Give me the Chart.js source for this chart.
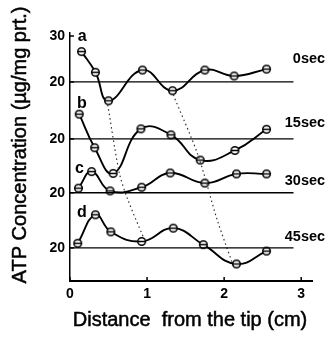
<!DOCTYPE html>
<html>
<head>
<meta charset="utf-8">
<script src="https://cdn.jsdelivr.net/npm/chart.js@4.4.0/dist/chart.umd.min.js"></script>
<style>
html, body { margin: 0; padding: 0; background: #fff; }
</style>
</head>
<body>
<canvas id="myChart" width="329" height="339"></canvas>
<script>
// distance from the tip (cm), one list per trace
var distA = [0.15, 0.33, 0.50, 0.94, 1.33, 1.75, 2.13, 2.55];
var distB = [0.12, 0.32, 0.56, 0.92, 1.31, 1.69, 2.14, 2.55];
var distC = [0.11, 0.28, 0.52, 0.93, 1.30, 1.75, 2.16, 2.55];
var distD = [0.10, 0.33, 0.53, 0.93, 1.34, 1.73, 2.16, 2.55];

// ATP concentration (ug/mg prt.)
var atpA = [26.6, 22.1, 15.9, 22.6, 18.1, 22.6, 21.3, 22.8];
var atpB = [25.4, 18.1, 12.5, 22.2, 20.9, 15.4, 17.5, 22.1];
var atpC = [21.0, 24.6, 20.4, 21.2, 24.3, 22.1, 24.1, 24.1];
var atpD = [21.0, 27.2, 23.5, 21.4, 24.3, 20.7, 16.5, 19.3];

var traceLetters = ['a', 'b', 'c', 'd'];
var timeLabels = ['0sec', '15sec', '30sec', '45sec'];
var yTickValues = [30, 20, 20, 20, 20];
var yTickPanel = [0, 0, 1, 2, 3];
var xTickValues = [0, 1, 2, 3];

// dotted guide lines linking the minima (distance, value on trace a's scale)
var guide1X = [0.49, 0.64, 0.75, 0.95];
var guide1Y = [15.0, 0.2, -5.6, -13.7];
var guide2X = [1.34, 1.66, 1.91, 2.10];
var guide2Y = [17.2, 4.1, -10.0, -19.1];

// each trace is drawn lower on the page by this many units
var shift = [0, 12.4, 24.1, 36.1];
var baseLevel = 20;
var baseEnd = 2.9;

var dists = [distA, distB, distC, distD];
var atps = [atpA, atpB, atpC, atpD];

// open circle marker with a bar through it
var marker = document.createElement('canvas');
marker.width = 11; marker.height = 11;
(function () {
    var m = marker.getContext('2d');
    m.fillStyle = '#fff';
    m.strokeStyle = '#000';
    m.lineWidth = 1.5;
    m.beginPath();
    m.arc(5.5, 5.5, 3.8, 0, Math.PI * 2);
    m.fill();
    m.stroke();
    m.beginPath();
    m.moveTo(1.5, 5.5);
    m.lineTo(9.5, 5.5);
    m.stroke();
})();

var datasets = [];
for (var i = 0; i < 4; i++) {
    datasets.push({
        data: [{x: 0, y: baseLevel - shift[i]}, {x: baseEnd, y: baseLevel - shift[i]}],
        borderColor: '#000',
        borderWidth: 1.3,
        pointRadius: 0,
        tension: 0
    });
}
[[guide1X, guide1Y], [guide2X, guide2Y]].forEach(function (g) {
    datasets.push({
        data: g[0].map(function (x, j) { return {x: x, y: g[1][j]}; }),
        borderColor: '#333',
        borderWidth: 1.2,
        borderDash: [1.5, 3],
        pointRadius: 0,
        tension: 0.3
    });
});
for (var k = 0; k < 4; k++) {
    datasets.push({
        data: dists[k].map(function (x, j) { return {x: x, y: atps[k][j] - shift[k]}; }),
        borderColor: '#000',
        borderWidth: 1.9,
        pointStyle: marker,
        pointRadius: 4,
        tension: 0.45
    });
}

// letters and time labels, positioned on each trace's own scale
var letterPos = [[0.10, 28.9], [0.09, 26.7], [0.065, 24.3], [0.09, 26.7]];
var timePos = [[3.31, 24.1], [3.31, 22.6], [3.31, 21.7], [3.31, 21.4]];

var textPlugin = {
    id: 'panelText',
    afterDraw: function (chart) {
        var ctx = chart.ctx;
        var xs = chart.scales.x, ys = chart.scales.y;
        ctx.save();
        ctx.fillStyle = '#000';
        ctx.strokeStyle = '#000';
        ctx.lineWidth = 1.5;
        // small inward ticks
        xs.ticks.forEach(function (t) {
            var px = xs.getPixelForValue(t.value);
            ctx.beginPath();
            ctx.moveTo(px, xs.top);
            ctx.lineTo(px, xs.top - 4);
            ctx.stroke();
        });
        ys.ticks.forEach(function (t) {
            var py = ys.getPixelForValue(t.value);
            ctx.beginPath();
            ctx.moveTo(ys.right, py);
            ctx.lineTo(ys.right + 4, py);
            ctx.stroke();
        });
        ctx.textBaseline = 'alphabetic';
        ctx.font = 'bold 16px "Liberation Sans"';
        ctx.textAlign = 'left';
        for (var i = 0; i < 4; i++) {
            ctx.fillText(traceLetters[i], xs.getPixelForValue(letterPos[i][0]),
                ys.getPixelForValue(letterPos[i][1] - shift[i]));
        }
        ctx.font = 'bold 14.5px "Liberation Sans"';
        ctx.textAlign = 'right';
        for (var j = 0; j < 4; j++) {
            ctx.fillText(timeLabels[j], xs.getPixelForValue(timePos[j][0]),
                ys.getPixelForValue(timePos[j][1] - shift[j]));
        }
        // axis titles, a little heavier than regular
        ctx.font = '20px "Liberation Sans"';
        ctx.textAlign = 'center';
        ctx.textBaseline = 'middle';
        ctx.lineWidth = 0.5;
        ctx.fillText('Distance  from the tip (cm)', 190, 320);
        ctx.strokeText('Distance  from the tip (cm)', 190, 320);
        ctx.translate(20, 145);
        ctx.rotate(-Math.PI / 2);
        ctx.fillText('ATP Concentration (\u00b5g/mg prt.)', 0, 0);
        ctx.strokeText('ATP Concentration (\u00b5g/mg prt.)', 0, 0);
        ctx.restore();
    }
};

var ctx = document.getElementById('myChart').getContext('2d');
var myChart = new Chart(ctx, {
    type: 'line',
    data: { datasets: datasets },
    plugins: [textPlugin],
    options: {
        responsive: false,
        animation: false,
        devicePixelRatio: 1,
        layout: { padding: { left: 0, right: 17, top: 33, bottom: 0 } },
        plugins: {
            legend: { display: false },
            tooltip: { enabled: false }
        },
        scales: {
            x: {
                type: 'linear',
                min: 0,
                max: 3.14,
                afterBuildTicks: function (scale) {
                    scale.ticks = xTickValues.map(function (v) { return {value: v}; });
                },
                afterFit: function (scale) { scale.height = 58; },
                grid: { drawOnChartArea: false, drawTicks: false },
                border: { display: true, color: '#000', width: 2 },
                ticks: {
                    padding: 5,
                    color: '#000',
                    font: { family: 'Liberation Sans', size: 14, weight: 'bold' }
                }
            },
            y: {
                type: 'linear',
                min: -23.3,
                max: 30.65,
                afterBuildTicks: function (scale) {
                    scale.ticks = yTickValues.map(function (v, i) {
                        return {value: v - shift[yTickPanel[i]]};
                    });
                },
                afterFit: function (scale) { scale.width = 70; },
                grid: { drawOnChartArea: false, drawTicks: false },
                border: { display: true, color: '#000', width: 1.5 },
                ticks: {
                    padding: 5,
                    color: '#000',
                    font: { family: 'Liberation Sans', size: 14, weight: 'bold' },
                    callback: function (value, index) { return String(yTickValues[index]); }
                }
            }
        }
    }
});
</script>
</body>
</html>
